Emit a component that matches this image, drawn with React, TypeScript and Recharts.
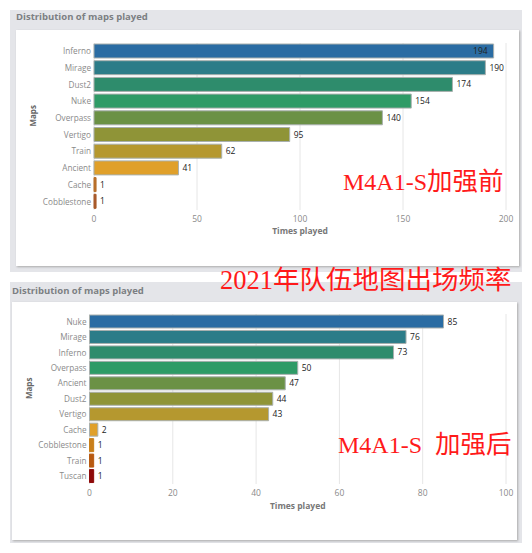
import React from "react";
import { BarChart, Bar, XAxis, YAxis, CartesianGrid, Cell, LabelList } from "recharts";

const mapsBefore = ["Inferno", "Mirage", "Dust2", "Nuke", "Overpass", "Vertigo", "Train", "Ancient", "Cache", "Cobblestone"];
const timesBefore = [194, 190, 174, 154, 140, 95, 62, 41, 1, 1];
const colorsBefore = ["#2a6ca3", "#2c7c88", "#2e8c6c", "#2e9b66", "#6b9145", "#8f9437", "#b5982f", "#e0a02a", "#b9702a", "#a85a2a"];
const ticksBefore = [0, 50, 100, 150, 200];

const mapsAfter = ["Nuke", "Mirage", "Inferno", "Overpass", "Ancient", "Dust2", "Vertigo", "Cache", "Cobblestone", "Train", "Tuscan"];
const timesAfter = [85, 76, 73, 50, 47, 44, 43, 2, 1, 1, 1];
const colorsAfter = ["#2a6ca3", "#2c7c88", "#2e8c6c", "#2e9b66", "#6b9145", "#8f9437", "#b5982f", "#e0a02a", "#c97f1a", "#b85a10", "#8e0a0a"];
const ticksAfter = [0, 20, 40, 60, 80, 100];

const font = "'Open Sans', sans-serif";
const redFont = "'Liberation Serif', 'Noto Sans CJK SC', serif";

// the longest bar in the top chart has its value inside, the rest sit to the right
function ValueLabel(props: any) {
  const { x, y, width, height, value, inside } = props;
  const isInside = inside && value === inside;
  return (
    <text
      x={isInside ? x + width - 6 : x + width + 4}
      y={y + height / 2}
      dy={3}
      textAnchor={isInside ? "end" : "start"}
      fontSize={8.5}
      fontFamily={font}
      fill="#222"
    >
      {value}
    </text>
  );
}

function MapChart({ maps, times, colors, ticks, max, inside, left, width, height, top, bottom, axisWidth, barSize, labelOffset, axisOffset }: any) {
  const data = maps.map((map: string, i: number) => ({ map, times: times[i] }));
  return (
    <BarChart
      layout="vertical"
      width={width}
      height={height}
      data={data}
      margin={{ top, right: width - 506, left, bottom }}
      barCategoryGap={0}
    >
      <CartesianGrid horizontal={false} stroke="#e6e6e6" />
      <XAxis
        type="number"
        domain={[0, max]}
        ticks={ticks}
        interval={0}
        axisLine={false}
        tickLine={false}
        tick={{ fill: "#8a8a8a", fontSize: 8.5, fontFamily: font }}
        tickMargin={0}
        height={32}
        label={{ value: "Times played", position: "insideBottom", offset: axisOffset, fill: "#777", fontSize: 8.5, fontWeight: 700, fontFamily: font }}
      />
      <YAxis
        type="category"
        dataKey="map"
        interval={0}
        axisLine={false}
        tickLine={false}
        tickSize={0}
        width={axisWidth}
        tick={{ fill: "#8a8a8a", fontSize: 8.2, fontFamily: font }}
        tickMargin={3}
        label={{ value: "Maps", angle: -90, position: "insideLeft", offset: labelOffset, fill: "#666", fontSize: 8, fontWeight: 700, fontFamily: font }}
      />
      <Bar dataKey="times" barSize={barSize} stroke="#a9b0ae" strokeWidth={1} isAnimationActive={false}>
        {data.map((d: any, i: number) => (
          // a 1 wide bar would be nothing but outline
          <Cell key={d.map} fill={colors[i]} stroke={d.times === 1 ? colors[i] : "#a9b0ae"} />
        ))}
        <LabelList dataKey="times" content={(p: any) => <ValueLabel {...p} inside={inside} />} />
      </Bar>
    </BarChart>
  );
}

const panel: React.CSSProperties = { position: "absolute", left: 10, width: 512, background: "#e4e5e9" };
const card: React.CSSProperties = { position: "absolute", background: "#fff", boxShadow: "1px 1px 2px #aaa" };
const title: React.CSSProperties = { position: "absolute", fontFamily: font, fontWeight: 700, fontSize: 9.5, color: "#7c7f83", whiteSpace: "nowrap" };
const red: React.CSSProperties = { position: "absolute", fontFamily: redFont, color: "#ff1a1a", whiteSpace: "nowrap", lineHeight: 1 };
const cjk: React.CSSProperties = { fontSize: 25.5 };

export default function App() {
  return (
    <div style={{ position: "absolute", left: 0, top: 0, width: 532, height: 553, background: "#fff", overflow: "hidden" }}>
      <div style={{ ...panel, top: 10, height: 262 }} />
      <div style={{ ...card, left: 16, top: 30, width: 503, height: 236 }} />
      <div style={{ ...title, left: 16, top: 10 }}>Distribution of maps played</div>
      <div style={{ position: "absolute", left: 0, top: 0 }}>
        <MapChart maps={mapsBefore} times={timesBefore} colors={colorsBefore} ticks={ticksBefore} max={200} inside={194}
          width={532} height={272} top={43} bottom={30} left={28} axisWidth={66} barSize={14} labelOffset={5} axisOffset={8} />
      </div>

      <div style={{ ...panel, top: 282, height: 261 }} />
      <div style={{ ...card, left: 12, top: 302, width: 505, height: 238 }} />
      <div style={{ ...title, left: 12, top: 284 }}>Distribution of maps played</div>
      <div style={{ position: "absolute", left: 0, top: 0 }}>
        <MapChart maps={mapsAfter} times={timesAfter} colors={colorsAfter} ticks={ticksAfter} max={100}
          width={532} height={543} top={314} bottom={27} left={23} axisWidth={66.5} barSize={13} labelOffset={6} axisOffset={7} />
      </div>

      <div style={{ ...red, left: 343, top: 169, fontSize: 24 }}>M4A1-S<span style={cjk}>加强前</span></div>
      <div style={{ ...red, left: 220, top: 267, fontSize: 26.5 }}>2021年队伍地图出场频率</div>
      <div style={{ ...red, left: 338, top: 432, fontSize: 24 }}>M4A1-S<span style={{ ...cjk, marginLeft: 13 }}>加强后</span></div>
    </div>
  );
}
